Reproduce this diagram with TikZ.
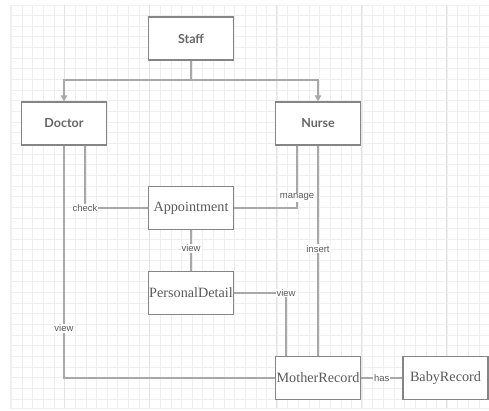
\documentclass[tikz,border=0pt]{standalone}
\usepackage{fontspec}
\setmainfont{Liberation Serif}
\newfontfamily\boxsans{Lato}
\newfontfamily\lblsans{Liberation Sans}
\usetikzlibrary{arrows.meta}
\definecolor{gridc}{HTML}{EFEFEF}
\definecolor{gridmaj}{HTML}{E4E4E4}
\definecolor{linec}{HTML}{A8A8A8}
\definecolor{boxc}{HTML}{858585}
\definecolor{txtc}{HTML}{5A5A5A}
\definecolor{roletxt}{HTML}{666666}
\tikzset{
  entity/.style={draw=boxc, line width=1.4pt, fill=white, minimum width=85pt,
    minimum height=43pt, inner sep=0pt, text=txtc,
    font=\fontsize{14.2}{16}\selectfont},
  role/.style={entity, text=roletxt, font=\boxsans\bfseries\fontsize{12.5}{15}\selectfont},
  link/.style={draw=linec, line width=1.3pt},
  arr/.style={link, -{Triangle[width=6.5pt,length=6pt]}},
  lbl/.style={fill=white, inner sep=1pt, text=txtc,
    font=\lblsans\fontsize{9.5}{11}\selectfont}
}
\begin{document}
\begin{tikzpicture}[x=1pt,y=-1pt]
  % page and grid paper
  \fill[white] (0,0) rectangle (489,410);
  \useasboundingbox (0,0) rectangle (489,410);
  \foreach \k in {0,...,44}{
    \draw[gridc, line width=1pt] ({11.7+\k*10.625},5) -- ({11.7+\k*10.625},408);
  }
  \foreach \k in {0,...,37}{
    \draw[gridc, line width=1pt] (10,{5+\k*10.65}) -- (489,{5+\k*10.65});
  }
  \draw[gridc, line width=1pt] (10,5) -- (10,408) -- (489,408);
  \foreach \x in {64.7,149,276,361,446.7}{
    \draw[gridmaj, line width=0.8pt] (\x,5) -- (\x,408);
  }

  % entities
  \node[role]   (staff)    at (191,38.5)  {Staff};
  \node[role]   (doctor)   at (64,123.5)  {Doctor};
  \node[role]   (nurse)    at (318,123.5) {Nurse};
  \node[entity] (appt)     at (191,208)   {Appointment};
  \node[entity] (personal) at (191,293)   {PersonalDetail};
  \node[entity] (mother)   at (318,378)   {MotherRecord};
  \node[entity] (baby)     at (445.5,378) {BabyRecord};

  % inheritance from Staff
  \coordinate (split) at (191,80);
  \draw[link] (staff.south) -- (split);
  \draw[arr] (split) -| (doctor.north);
  \draw[arr] (split) -| (nurse.north);

  % associations
  \coordinate (dchk) at ([xshift=21pt]doctor.south);
  \coordinate (nmng) at ([xshift=-21pt]nurse.south);
  \coordinate (mview) at ([xshift=-32pt]mother.north);
  \coordinate (dcorner) at (doctor.south |- mother.west);

  \draw[link] (doctor.south) -- node[lbl, pos=0.785] {view} (dcorner) -- (mother.west);
  \draw[link] (dchk) |- node[lbl, pos=0.5] {check} (appt.west);
  \draw[link] (nmng) |- node[lbl, pos=0.413] {manage} (appt.east);
  \draw[link] (nurse.south) -- node[lbl, pos=0.49] {insert} (mother.north);
  \draw[link] (appt.south) -- node[lbl, pos=0.45] {view} (personal.north);
  \draw[link] (personal.east) -| node[lbl, pos=0.5] {view} (mview);
  \draw[link] (mother.east) -- node[lbl] {has} (baby.west);
\end{tikzpicture}
\end{document}
